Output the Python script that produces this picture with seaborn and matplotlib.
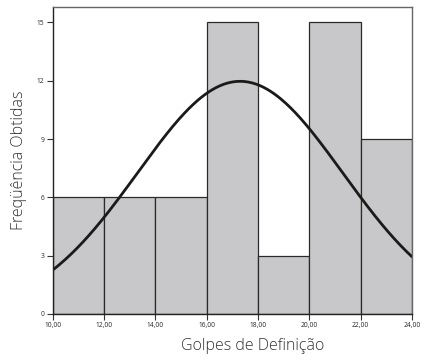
import numpy as np
import pandas as pd
import matplotlib
matplotlib.use("Agg")
import matplotlib.pyplot as plt
import seaborn as sns

# Frequency table: class midpoints and counts (bin width 2)
bin_edges = [10, 12, 14, 16, 18, 20, 22, 24]
bin_mids = [11, 13, 15, 17, 19, 21, 23]
counts = [6, 6, 6, 15, 3, 15, 9]
# Parameters of the fitted normal curve
mean_val = 17.3
sd_val = 4.0
x_tick_labels = ["10,00", "12,00", "14,00", "16,00", "18,00", "20,00", "22,00", "24,00"]
y_ticks = [0, 3, 6, 9, 12, 15]

sns.set_style("white")
plt.rcParams["font.family"] = ["Open Sans", "DejaVu Sans"]

fig = plt.figure(figsize=(4.3, 3.6), dpi=100)
ax = fig.add_axes([0.123, 0.128, 0.835, 0.853])

df = pd.DataFrame({"x": bin_mids, "n": counts})
sns.histplot(data=df, x="x", weights="n", bins=bin_edges, ax=ax,
             color="#c8c8ca", edgecolor="#2a2a2a", linewidth=0.9, alpha=1)

n_total = sum(counts)
width = bin_edges[1] - bin_edges[0]
xs = np.linspace(bin_edges[0], bin_edges[-1], 300)
ys = n_total * width / (sd_val * np.sqrt(2 * np.pi)) * np.exp(-0.5 * ((xs - mean_val) / sd_val) ** 2)
sns.lineplot(x=xs, y=ys, ax=ax, color="#1a1a1a", linewidth=2.0)

ax.set_xlim(bin_edges[0], bin_edges[-1])
ax.set_ylim(0, 15.8)
ax.set_xticks(bin_edges)
ax.set_xticklabels(x_tick_labels, fontsize=4.8)
ax.set_yticks(y_ticks)
ax.set_yticklabels([str(v) for v in y_ticks], fontsize=4.8)
ax.tick_params(axis="both", direction="out", length=4, width=0.8, color="#333333", pad=2)
ax.tick_params(axis="x", bottom=True)
ax.tick_params(axis="y", left=True)

for side in ["left", "bottom"]:
    ax.spines[side].set_color("#222222")
    ax.spines[side].set_linewidth(1.0)
for side in ["top", "right"]:
    ax.spines[side].set_color("#666666")
    ax.spines[side].set_linewidth(1.0)

ax.set_xlabel("Golpes de Definição", fontsize=11.5, color="#333333", fontweight=300)
ax.set_ylabel("Freqüência Obtidas", fontsize=11.5, color="#333333", fontweight=300)
ax.xaxis.set_label_coords(0.557, -0.08)
ax.xaxis.label.set_va("top")
ax.yaxis.set_label_coords(-0.093, 0.5)
ax.yaxis.label.set_va("center")

fig.savefig("out.png", dpi=100)
